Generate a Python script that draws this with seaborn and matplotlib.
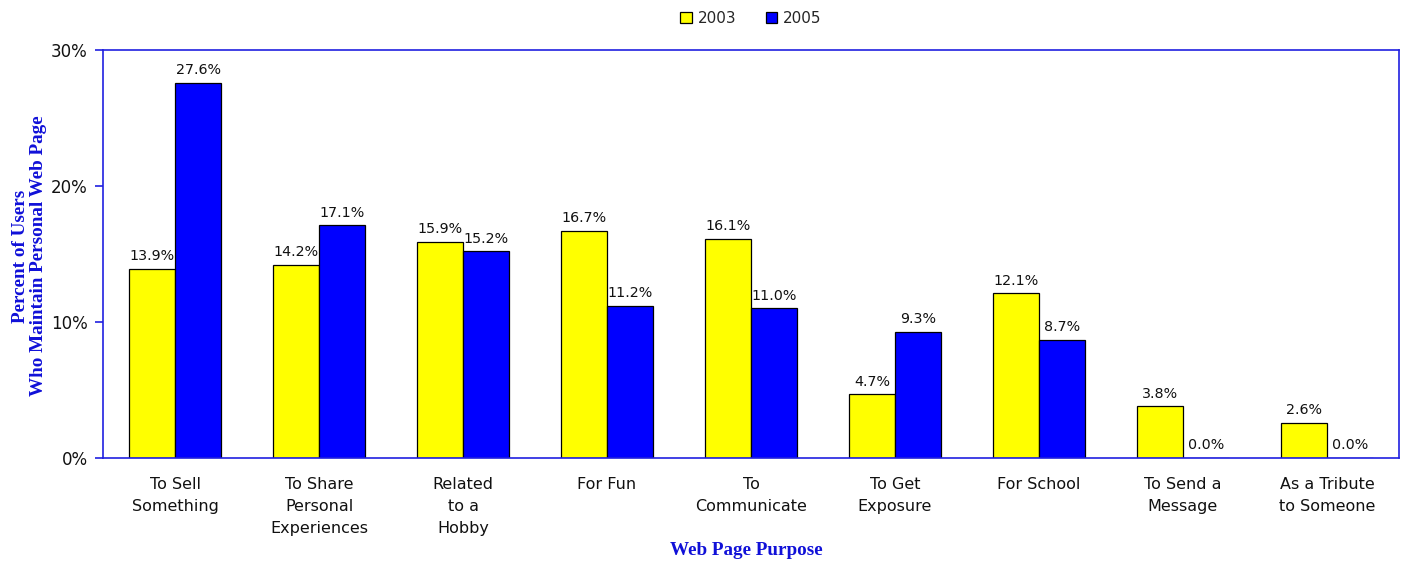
import matplotlib
matplotlib.use("Agg")
import matplotlib.pyplot as plt
import seaborn as sns
import pandas as pd
from matplotlib.ticker import FuncFormatter, MultipleLocator

categories = [
    "To Sell\nSomething",
    "To Share\nPersonal\nExperiences",
    "Related\nto a\nHobby",
    "For Fun",
    "To\nCommunicate",
    "To Get\nExposure",
    "For School",
    "To Send a\nMessage",
    "As a Tribute\nto Someone",
]
values_2003 = [13.9, 14.2, 15.9, 16.7, 16.1, 4.7, 12.1, 3.8, 2.6]
values_2005 = [27.6, 17.1, 15.2, 11.2, 11.0, 9.3, 8.7, 0.0, 0.0]
years = ["2003", "2005"]

df = pd.DataFrame({
    "purpose": categories * 2,
    "year": [years[0]] * len(categories) + [years[1]] * len(categories),
    "pct": values_2003 + values_2005,
})

sns.set_theme(style="white")
plt.rcParams["font.family"] = ["DejaVu Sans"]

fig = plt.figure(figsize=(14.04, 5.61), dpi=100)
ax = fig.add_axes([0.0734, 0.1836, 0.923, 0.7273])

palette = {"2003": "#FFFF00", "2005": "#0000FF"}
sns.barplot(data=df, x="purpose", y="pct", hue="year", palette=palette,
            width=0.64, edgecolor="black", linewidth=0.9, saturation=1,
            order=categories, hue_order=years, ax=ax, legend=True)

for container in ax.containers:
    ax.bar_label(container, fmt="%.1f%%", padding=4, fontsize=10.3, color="#111111")

ax.set_ylim(0, 30)
ax.set_xlim(-0.5, len(categories) - 0.5)
ax.yaxis.set_major_locator(MultipleLocator(10))
ax.yaxis.set_major_formatter(FuncFormatter(lambda v, p: f"{v:.0f}%"))

border = "#2020E0"
for s in ax.spines.values():
    s.set_visible(True)
    s.set_color(border)
    s.set_linewidth(1.2)

ax.tick_params(axis="y", direction="out", length=6, width=1.2, color=border,
               labelsize=12, labelcolor="#111111", left=True, pad=5)
ax.tick_params(axis="x", length=0, labelsize=11.5, labelcolor="#111111", pad=14)
for lbl in ax.get_xticklabels():
    lbl.set_linespacing(1.55)

title_font = dict(family="Liberation Serif", weight="bold", color="#1010D8", size=13.8)
ax.set_xlabel("Web Page Purpose", **title_font)
ax.set_ylabel("Percent of Users\nWho Maintain Personal Web Page",
              linespacing=1.05, **title_font)
ax.xaxis.set_label_coords(0.496, -0.205)
ax.yaxis.set_label_coords(-0.0435, 0.495)

handles, labels = ax.get_legend_handles_labels()
ax.legend(handles, labels, loc="upper center", bbox_to_anchor=(0.5, 1.13),
          ncol=2, frameon=False, fontsize=11, handlelength=0.75, handleheight=0.75,
          handletextpad=0.4, columnspacing=1.9)

fig.savefig("out.png", dpi=100, facecolor="white")
